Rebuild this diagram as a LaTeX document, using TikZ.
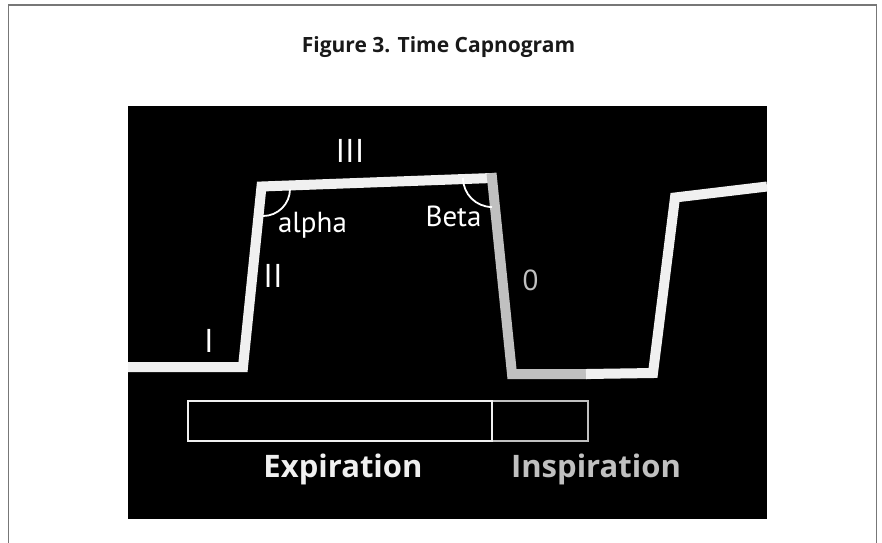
\documentclass[tikz,border=0pt]{standalone}
\usepackage{fontspec}
\setmainfont{PT Sans}
\newfontfamily\headfont{Open Sans}
\definecolor{trace}{HTML}{F0F0F0}
\definecolor{insp}{HTML}{C0C0C0}
\definecolor{frameline}{HTML}{777777}
\begin{document}
\begin{tikzpicture}[x=1pt,y=-1pt,
  trace/.style={draw=trace,line width=10pt,line join=miter},
  insptrace/.style={draw=insp,line width=10pt,line join=miter,line cap=rect},
  angle/.style={draw=white,line width=1.8pt},
  phase/.style={text=white,font=\fontsize{33}{33}\selectfont,anchor=base},
  anglab/.style={text=white,font=\fontsize{29}{29}\selectfont,anchor=base},
  barlab/.style={font=\headfont\bfseries\fontsize{31}{31}\selectfont,anchor=base},
  bar/.style={line width=2pt}]
\useasboundingbox (0,0) rectangle (882,542);
\fill[white] (0,0) rectangle (882,542);
% page frame (open at the bottom)
\draw[frameline,line width=1.5pt] (8.5,545) -- (8.5,5) -- (876.5,5) -- (876.5,545);
% title
\node[font=\headfont\bfseries\fontsize{21}{21}\selectfont,text=black!90,anchor=base] (title) at (438.5,52) {Figure 3. Time Capnogram};
% plot area
\fill[black] (128,106) rectangle (767,519);
% waveform vertices
\coordinate (p0) at (128,367);
\coordinate (p1) at (243,367);
\coordinate (p2) at (261.5,186.5);
\coordinate (p3) at (492,178);
\coordinate (p4) at (512,374);
\coordinate (p5) at (586,374);
\coordinate (p6) at (653,373);
\coordinate (p7) at (675,197.5);
\coordinate (p8) at (767,186.5);
\draw[trace] (p0) -- (p1) -- (p2) -- (p3);
\draw[insptrace] (p3) -- (p4) -- (p5);
\draw[trace] (p5) -- (p6) -- (p7) -- (p8);
% angle markers
\draw[angle] (290,189) arc[start angle=0,end angle=-90,radius=27pt];
\draw[angle] (463,178) arc[start angle=180,end angle=270,radius=29pt];
% phase labels
\node[phase] (ph1) at (209,352) {I};
\node[phase] (ph2) at (273,287) {II};
\node[phase] (ph3) at (350,162) {III};
\node[anglab] (alpha) at (312.5,232) {alpha};
\node[anglab] (beta) at (453.5,226) {Beta};
\node[anglab,text=insp] (zero) at (530.5,290) {0};
% expiration / inspiration bars
\draw[bar,draw=insp] (492,401) rectangle (588,441);
\draw[bar,draw=trace] (188,401) rectangle (492,441);
\node[barlab,text=trace] (exp) at (343,477) {Expiration};
\node[barlab,text=insp] (insp) at (596,477) {Inspiration};
\end{tikzpicture}
\end{document}
